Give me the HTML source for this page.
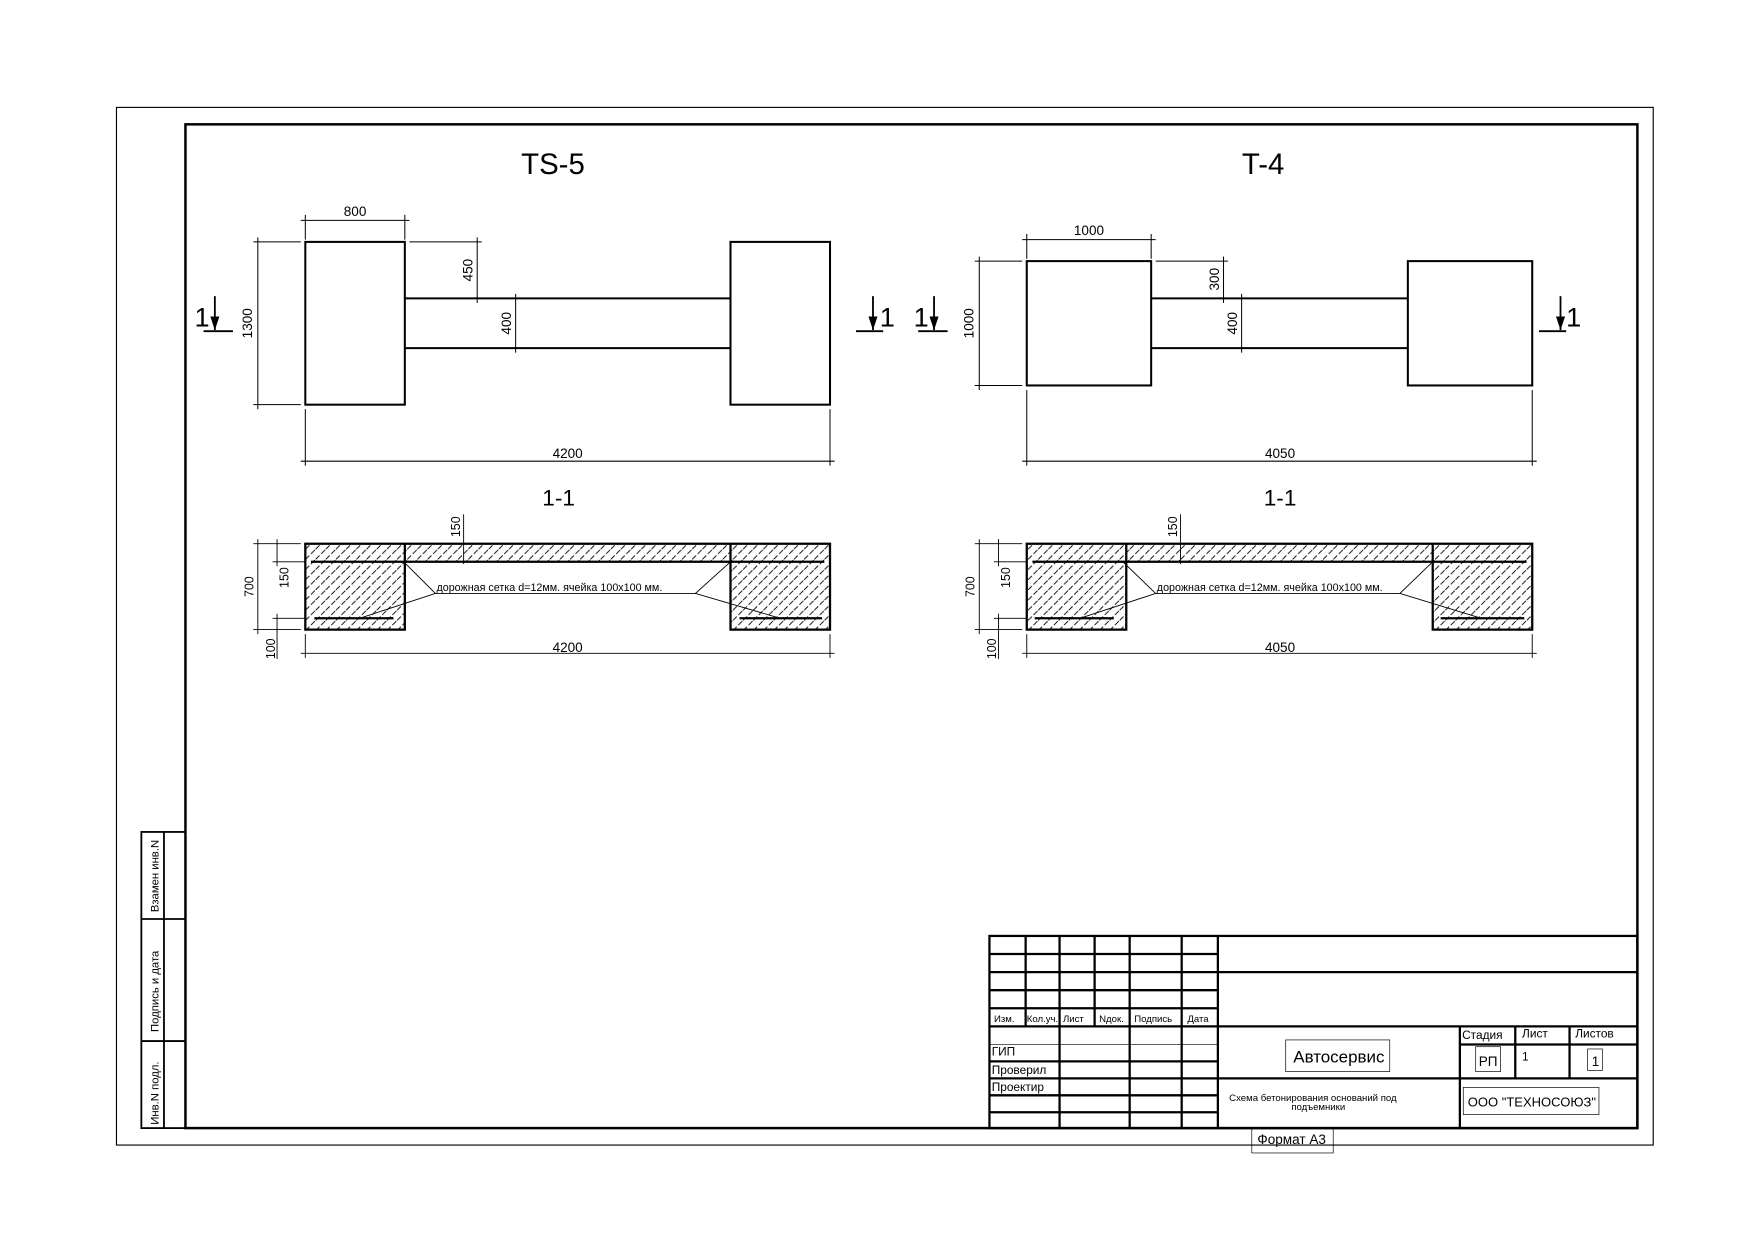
<!DOCTYPE html>
<html><head><meta charset="utf-8"><style>
html,body{margin:0;padding:0;background:#fff;}
svg{display:block;}
text{font-family:"Liberation Sans","DejaVu Sans",sans-serif;fill:#000;}
</style></head><body>
<svg width="1755" height="1240" viewBox="0 0 1552 1097" preserveAspectRatio="none" xmlns="http://www.w3.org/2000/svg">
<defs>
<pattern id="h" width="9" height="9" patternUnits="userSpaceOnUse">
<path d="M0 9 L9 0" stroke="#000" stroke-width="0.8" stroke-dasharray="5 2"/>
</pattern>
</defs>
<rect width="1552" height="1097" fill="#fff"/>
<rect x="103" y="95" width="1359" height="918" fill="none" stroke="#000" stroke-width="1"/>
<rect x="164" y="110" width="1284" height="888" fill="none" stroke="#000" stroke-width="2.2"/>
<g fill="none" stroke="#000" stroke-width="1.6">
<rect x="125" y="736" width="39" height="262"/>
<line x1="145" y1="736" x2="145" y2="998"/>
<line x1="125" y1="813" x2="164" y2="813"/>
<line x1="125" y1="921" x2="164" y2="921"/>
</g>
<g font-size="10">
<text transform="translate(140,775) rotate(-90)" text-anchor="middle">Взамен инв.N</text>
<text transform="translate(140,877) rotate(-90)" text-anchor="middle">Подпись и дата</text>
<text transform="translate(140,967) rotate(-90)" text-anchor="middle">Инв.N подл.</text>
</g>

<text x="489" y="154" font-size="26" text-anchor="middle">TS-5</text>
<g fill="none" stroke="#000" stroke-width="1.8">
<rect x="270" y="214" width="88" height="144"/>
<rect x="646" y="214" width="88" height="144"/>
<line x1="358" y1="264" x2="646" y2="264"/>
<line x1="358" y1="308" x2="646" y2="308"/>
</g>
<g fill="none" stroke="#000" stroke-width="0.9">
<line x1="270" y1="190" x2="270" y2="212"/><line x1="358" y1="190" x2="358" y2="212"/><line x1="266" y1="195" x2="362" y2="195"/>
<line x1="224" y1="214" x2="266" y2="214"/><line x1="224" y1="358" x2="266" y2="358"/><line x1="228" y1="210" x2="228" y2="362"/>
<line x1="362" y1="214" x2="426" y2="214"/><line x1="422" y1="210" x2="422" y2="268"/>
<line x1="456" y1="260" x2="456" y2="312"/>
<line x1="270" y1="362" x2="270" y2="412"/><line x1="734" y1="362" x2="734" y2="412"/><line x1="266" y1="408" x2="738" y2="408"/>
</g>
<g font-size="12">
<text x="314" y="191" text-anchor="middle">800</text>
<text transform="translate(223,286) rotate(-90)" text-anchor="middle">1300</text>
<text transform="translate(418,239) rotate(-90)" text-anchor="middle">450</text>
<text transform="translate(452,286) rotate(-90)" text-anchor="middle">400</text>
<text x="502" y="405" text-anchor="middle">4200</text>
</g>
<g stroke="#000" stroke-width="1.6" fill="none">
<line x1="180" y1="293" x2="206" y2="293"/><line x1="190" y1="262" x2="190" y2="292"/>
<line x1="757" y1="293" x2="781" y2="293"/><line x1="772" y1="262" x2="772" y2="292"/>
<line x1="812" y1="293" x2="838" y2="293"/><line x1="826" y1="262" x2="826" y2="292"/>
<line x1="1361" y1="293" x2="1385" y2="293"/><line x1="1380" y1="262" x2="1380" y2="292"/>
</g>
<g fill="#000">
<path d="M186 280 L190 292 L194 280Z"/><path d="M768 280 L772 292 L776 280Z"/>
<path d="M822 280 L826 292 L830 280Z"/><path d="M1376 280 L1380 292 L1384 280Z"/>
</g>
<g font-size="24">
<text x="172" y="289">1</text><text x="778" y="289">1</text>
<text x="808" y="289">1</text><text x="1385" y="289">1</text>
</g>

<text x="1117" y="154" font-size="26" text-anchor="middle">T-4</text>
<g fill="none" stroke="#000" stroke-width="1.8">
<rect x="908" y="231" width="110" height="110"/>
<rect x="1245" y="231" width="110" height="110"/>
<line x1="1018" y1="264" x2="1245" y2="264"/>
<line x1="1018" y1="308" x2="1245" y2="308"/>
</g>
<g fill="none" stroke="#000" stroke-width="0.9">
<line x1="908" y1="207" x2="908" y2="229"/><line x1="1018" y1="207" x2="1018" y2="229"/><line x1="904" y1="212" x2="1022" y2="212"/>
<line x1="862" y1="231" x2="904" y2="231"/><line x1="862" y1="341" x2="904" y2="341"/><line x1="866" y1="227" x2="866" y2="345"/>
<line x1="1022" y1="231" x2="1086" y2="231"/><line x1="1082" y1="227" x2="1082" y2="268"/>
<line x1="1098" y1="260" x2="1098" y2="312"/>
<line x1="908" y1="345" x2="908" y2="412"/><line x1="1355" y1="345" x2="1355" y2="412"/><line x1="904" y1="408" x2="1359" y2="408"/>
</g>
<g font-size="12">
<text x="963" y="208" text-anchor="middle">1000</text>
<text transform="translate(861,286) rotate(-90)" text-anchor="middle">1000</text>
<text transform="translate(1078,247) rotate(-90)" text-anchor="middle">300</text>
<text transform="translate(1094,286) rotate(-90)" text-anchor="middle">400</text>
<text x="1132" y="405" text-anchor="middle">4050</text>
</g>

<text x="494" y="447" font-size="20" text-anchor="middle">1-1</text>
<path d="M270 481 H734 V557 H646 V497 H358 V557 H270Z" fill="url(#h)" stroke="#000" stroke-width="2"/>
<g stroke="#000" stroke-width="2">
<line x1="358" y1="481" x2="358" y2="497"/><line x1="646" y1="481" x2="646" y2="497"/>
<line x1="275" y1="497" x2="358" y2="497"/><line x1="646" y1="497" x2="729" y2="497"/>
<line x1="278" y1="547" x2="348" y2="547"/><line x1="654" y1="547" x2="727" y2="547"/>
</g>
<g fill="none" stroke="#000" stroke-width="0.8">
<line x1="224" y1="481" x2="266" y2="481"/><line x1="228" y1="477" x2="228" y2="561"/><line x1="224" y1="557" x2="266" y2="557"/>
<line x1="241" y1="497" x2="270" y2="497"/><line x1="245" y1="477" x2="245" y2="501"/>
<line x1="241" y1="547" x2="270" y2="547"/><line x1="245" y1="543" x2="245" y2="583"/>
<line x1="410" y1="455" x2="410" y2="499"/>
<line x1="270" y1="561" x2="270" y2="582"/><line x1="734" y1="561" x2="734" y2="582"/><line x1="266" y1="578" x2="738" y2="578"/>
<polyline points="357,497 385,525 318,547"/><line x1="385" y1="525" x2="615" y2="525"/>
<polyline points="646,497 615,525 690,547"/>
</g>
<g font-size="11">
<text transform="translate(224,519) rotate(-90)" text-anchor="middle">700</text>
<text transform="translate(255,511) rotate(-90)" text-anchor="middle">150</text>
<text transform="translate(243,574) rotate(-90)" text-anchor="middle">100</text>
<text transform="translate(407,466) rotate(-90)" text-anchor="middle">150</text>
<text x="386" y="523" font-size="9.5">дорожная сетка d=12мм. ячейка 100х100 мм.</text>
<text x="502" y="577" font-size="12" text-anchor="middle">4200</text>
</g>

<text x="1132" y="447" font-size="20" text-anchor="middle">1-1</text>
<path d="M908 481 H1355 V557 H1267 V497 H996 V557 H908Z" fill="url(#h)" stroke="#000" stroke-width="2"/>
<g stroke="#000" stroke-width="2">
<line x1="996" y1="481" x2="996" y2="497"/><line x1="1267" y1="481" x2="1267" y2="497"/>
<line x1="913" y1="497" x2="996" y2="497"/><line x1="1267" y1="497" x2="1350" y2="497"/>
<line x1="915" y1="547" x2="985" y2="547"/><line x1="1274" y1="547" x2="1348" y2="547"/>
</g>
<g fill="none" stroke="#000" stroke-width="0.8">
<line x1="862" y1="481" x2="904" y2="481"/><line x1="866" y1="477" x2="866" y2="561"/><line x1="862" y1="557" x2="904" y2="557"/>
<line x1="879" y1="497" x2="908" y2="497"/><line x1="883" y1="477" x2="883" y2="501"/>
<line x1="879" y1="547" x2="908" y2="547"/><line x1="883" y1="543" x2="883" y2="583"/>
<line x1="1044" y1="455" x2="1044" y2="499"/>
<line x1="908" y1="561" x2="908" y2="582"/><line x1="1355" y1="561" x2="1355" y2="582"/><line x1="904" y1="578" x2="1359" y2="578"/>
<polyline points="993,497 1022,525 955,547"/><line x1="1022" y1="525" x2="1238" y2="525"/>
<polyline points="1267,497 1238,525 1310,547"/>
</g>
<g font-size="11">
<text transform="translate(862,519) rotate(-90)" text-anchor="middle">700</text>
<text transform="translate(893,511) rotate(-90)" text-anchor="middle">150</text>
<text transform="translate(881,574) rotate(-90)" text-anchor="middle">100</text>
<text transform="translate(1041,466) rotate(-90)" text-anchor="middle">150</text>
<text x="1023" y="523" font-size="9.5">дорожная сетка d=12мм. ячейка 100х100 мм.</text>
<text x="1132" y="577" font-size="12" text-anchor="middle">4050</text>
</g>

<g fill="none" stroke="#000" stroke-width="2">
<rect x="875" y="828" width="573" height="170"/>
<line x1="875" y1="844" x2="1077" y2="844"/>
<line x1="875" y1="860" x2="1448" y2="860"/>
<line x1="875" y1="876" x2="1077" y2="876"/>
<line x1="875" y1="892" x2="1077" y2="892"/>
<line x1="875" y1="908" x2="1448" y2="908"/>
<line x1="875" y1="939" x2="1077" y2="939"/>
<line x1="875" y1="954" x2="1448" y2="954"/>
<line x1="875" y1="969" x2="1077" y2="969"/>
<line x1="875" y1="984" x2="1077" y2="984"/>
<line x1="1077" y1="828" x2="1077" y2="998"/>
<line x1="1045" y1="828" x2="1045" y2="998"/>
<line x1="999" y1="828" x2="999" y2="998"/>
<line x1="937" y1="828" x2="937" y2="998"/>
<line x1="907" y1="828" x2="907" y2="908"/>
<line x1="968" y1="828" x2="968" y2="908"/>
<line x1="1291" y1="908" x2="1291" y2="998"/>
<line x1="1340" y1="908" x2="1340" y2="954"/>
<line x1="1388" y1="908" x2="1388" y2="954"/>
<line x1="1291" y1="924" x2="1448" y2="924"/>
</g>
<g stroke="#000" stroke-width="0.6" fill="none">
<line x1="875" y1="924" x2="1077" y2="924"/>
</g>
<g font-size="8.5">
<text x="879" y="904">Изм.</text>
<text x="908" y="904">Кол.уч.</text>
<text x="940" y="904">Лист</text>
<text x="972" y="904">Nдок.</text>
<text x="1003" y="904">Подпись</text>
<text x="1050" y="904">Дата</text>
</g>
<g font-size="10.5">
<text x="877" y="934">ГИП</text>
<text x="877" y="950">Проверил</text>
<text x="877" y="965">Проектир</text>
</g>
<text x="1184" y="940" font-size="15" text-anchor="middle">Автосервис</text>
<rect x="1137" y="920" width="92" height="28" fill="none" stroke="#000" stroke-width="0.6"/>
<text x="1087" y="974" font-size="8.5">Схема бетонирования оснований под</text>
<text x="1142" y="982" font-size="8.5">подъемники</text>
<g font-size="10.5">
<text x="1293" y="919">Стадия</text>
<text x="1346" y="918">Лист</text>
<text x="1393" y="918">Листов</text>
<text x="1316" y="943" text-anchor="middle" font-size="12">РП</text>
<text x="1346" y="938">1</text>
<text x="1411" y="943" text-anchor="middle" font-size="12">1</text>
</g>
<rect x="1305" y="926" width="22" height="22" fill="none" stroke="#000" stroke-width="0.6"/>
<rect x="1404" y="928" width="13" height="19" fill="none" stroke="#000" stroke-width="0.6"/>
<text x="1298" y="979" font-size="11.5">ООО "ТЕХНОСОЮЗ"</text>
<rect x="1294" y="962" width="120" height="24" fill="none" stroke="#000" stroke-width="0.6"/>
<text x="1112" y="1012" font-size="12">Формат А3</text>
<rect x="1107" y="998" width="72" height="22" fill="none" stroke="#000" stroke-width="0.6"/>
</svg>
</body></html>
